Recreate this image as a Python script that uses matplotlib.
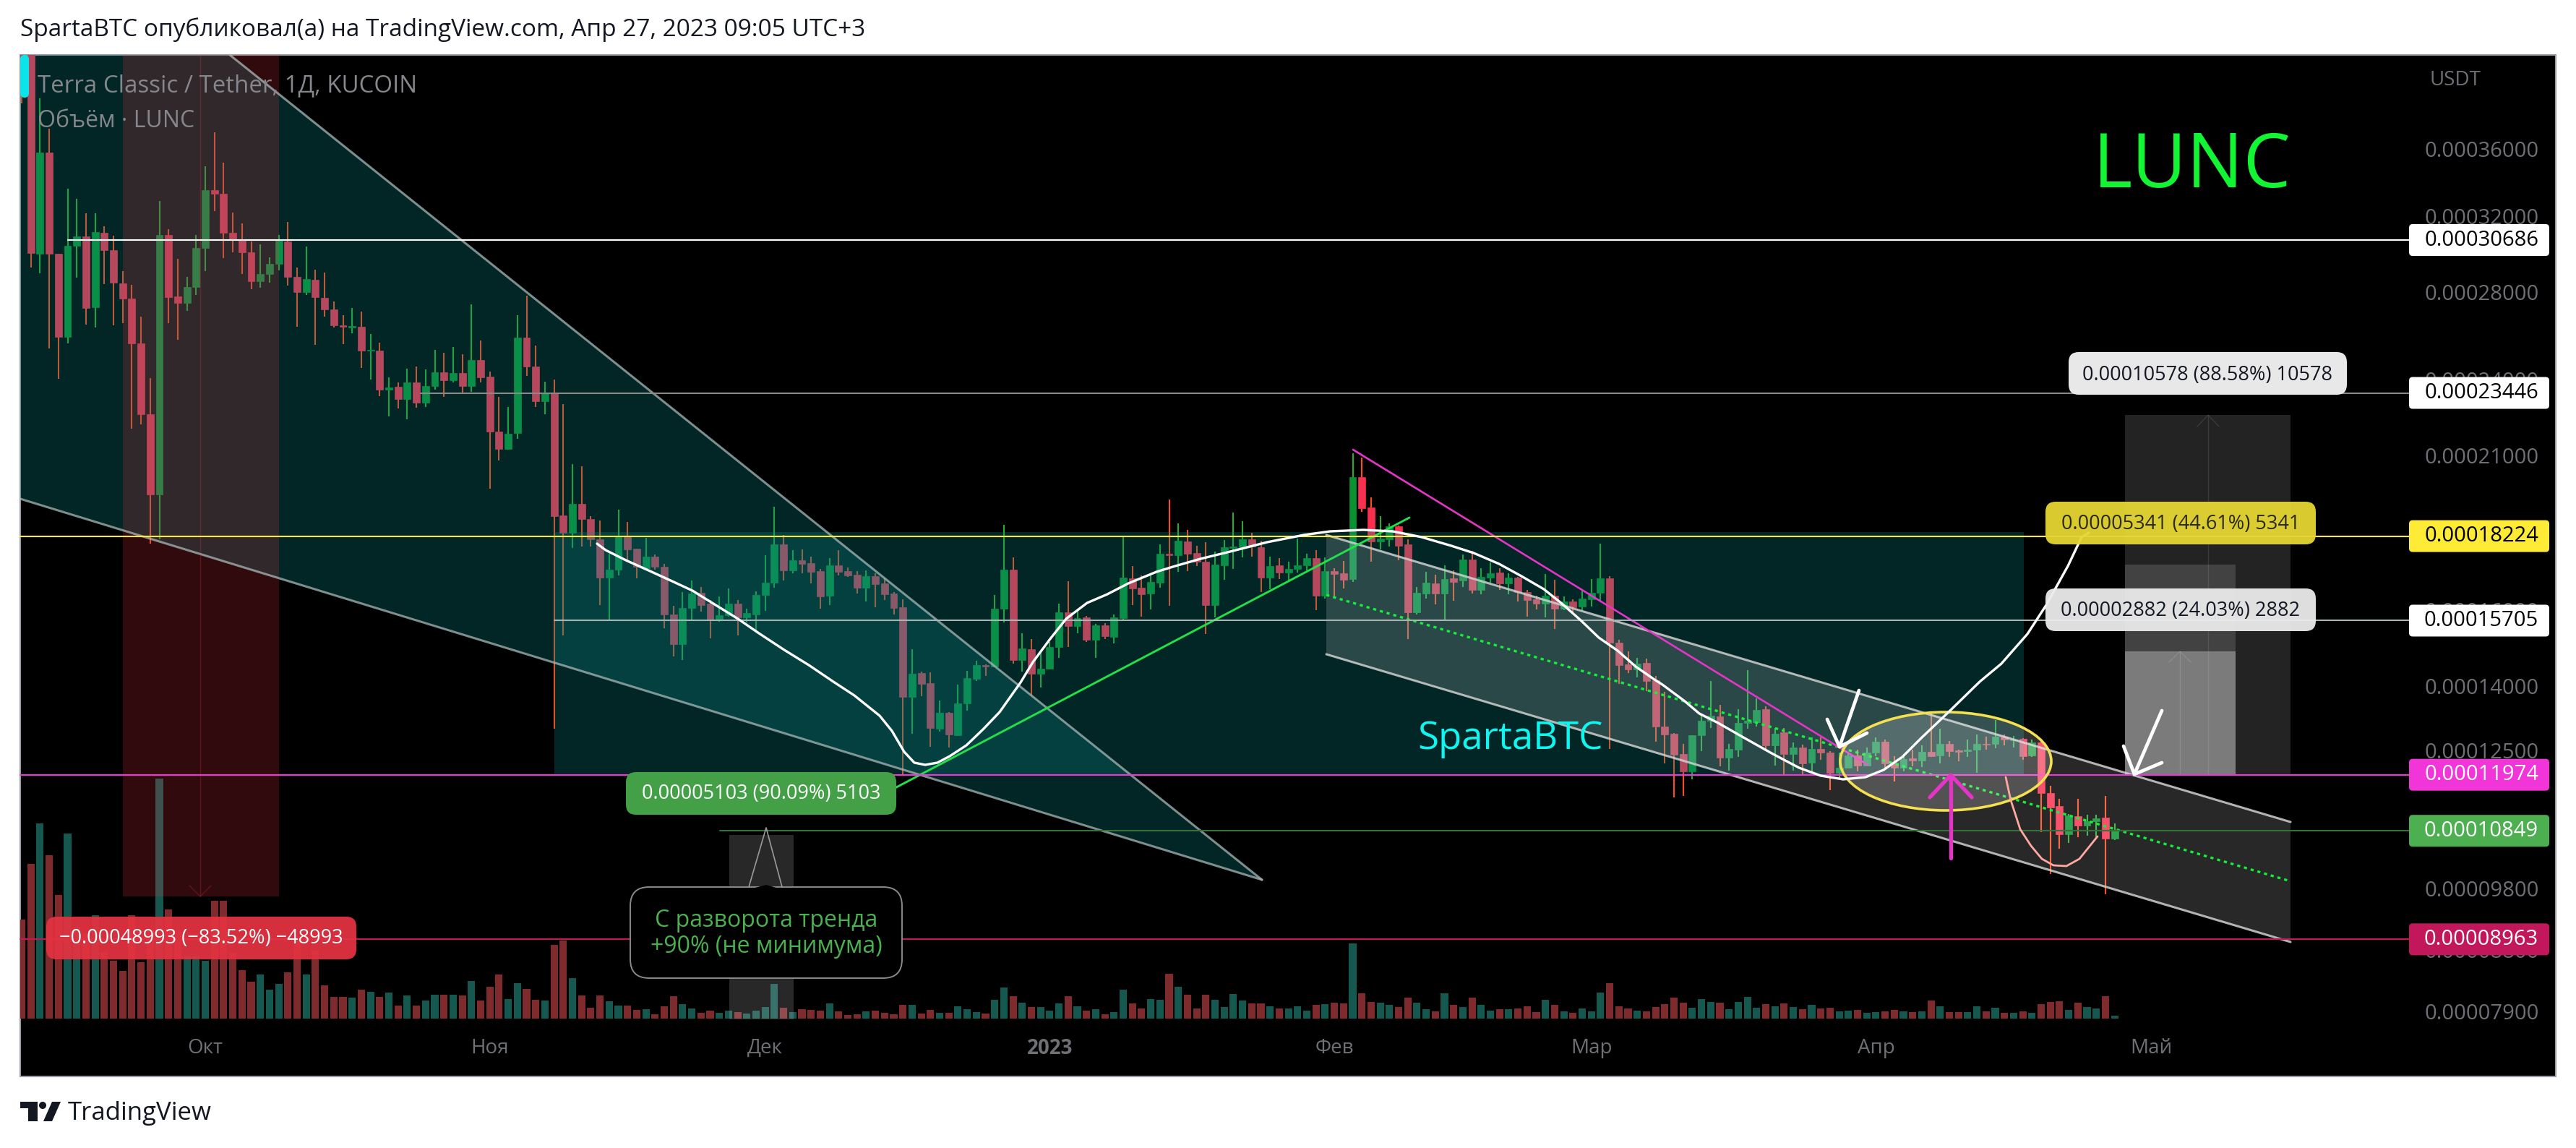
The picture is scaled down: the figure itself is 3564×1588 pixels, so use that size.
import numpy as np
import matplotlib
matplotlib.use("Agg")
import matplotlib.pyplot as plt
from matplotlib.patches import Rectangle, Polygon, Ellipse, FancyBboxPatch
from matplotlib.transforms import Affine2D
from matplotlib.ticker import NullLocator, NullFormatter

plt.rcParams['font.family'] = ['Open Sans', 'DejaVu Sans']

W, H, DPI = 3564, 1588, 100

# prezzi in unita di 1e-8 USDT, giorno 0 = 1 ottobre 2022
days = list(range(-20, 209))
opens = [
    43000, 43000, 29960, 35810, 29940, 25880, 30370, 30890, 27265, 31085,
    30140, 28435, 27690, 25590, 22570, 19610, 30950, 27770, 27470, 28260,
    30250, 33490, 33290, 31085, 30686, 30030, 28540, 28910, 29430, 30610,
    28770, 28000, 28610, 27720, 27165, 26410, 26310, 26340, 25250, 25270,
    23570, 23690, 23190, 23870, 23040, 23720, 24320, 23960, 24280, 23720,
    24850, 24140, 21890, 21250, 21840, 25830, 24550, 23120, 23470, 18900,
    18340, 19290, 18770, 18125, 16950, 17180, 18240, 17820, 17230, 17580,
    17275, 15875, 15075, 16050, 16490, 16180, 15705, 15860, 16180, 15785,
    15875, 16420, 16785, 17965, 17165, 17470, 17375, 17140, 16410, 17315,
    17130, 17030, 16650, 16990, 16775, 16475, 16080, 13735, 14325, 14070,
    12980, 13355, 12840, 13580, 14180, 14530, 14480, 16030, 17180, 14660,
    14940, 14305, 14425, 15000, 15940, 15565, 15800, 15190, 15580, 15260,
    15775, 16925, 16650, 16475, 16790, 17670, 17631, 18055, 17690, 17425,
    16130, 17320, 17855, 17880, 18125, 17870, 16950, 17315, 17100, 17205,
    17300, 17525, 16410, 17140, 17075, 16899, 20220, 19170, 18060, 18125,
    18545, 17955, 15940, 16480, 16770, 16465, 16920, 16845, 17485, 16585,
    16940, 17095, 16770, 16940, 16520, 16310, 16185, 16410, 16045, 16245,
    16100, 16315, 16500, 16920, 15115, 14548, 14420, 14585, 14145, 13040,
    12870, 12420, 12040, 12830, 13160, 13275, 12335, 12520, 13115, 13135,
    13443, 12615, 12900, 12425, 12565, 12235, 12535, 12455, 12015, 12125,
    12385, 12175, 12445, 12690, 12220, 12130, 12320, 12280, 12465, 12385,
    12650, 12500, 12475, 12520, 12650, 12640, 12810, 12725, 12750, 12380,
    12680, 11600, 11325, 10790, 11135, 10955, 11035, 11108, 10705,
]
closes = [
    40500, 29990, 35810, 29960, 25880, 30387, 30890, 27230, 31120, 30140,
    28470, 27690, 25590, 22570, 19610, 30950, 27750, 27470, 28260, 30250,
    33490, 33290, 31085, 30686, 30030, 28540, 28890, 29430, 30630, 28770,
    28000, 28660, 27750, 27165, 26410, 26340, 26360, 25270, 25300, 23570,
    23660, 23180, 23870, 23040, 23720, 24320, 23960, 24280, 23720, 24850,
    24110, 21890, 21250, 21810, 25830, 24550, 23120, 23470, 18880, 18340,
    19290, 18770, 18125, 16950, 17180, 18224, 17810, 17260, 17580, 17275,
    15875, 15075, 16065, 16475, 16150, 15705, 15860, 16180, 15785, 15920,
    16435, 16785, 17965, 17165, 17470, 17360, 17115, 16395, 17315, 17115,
    17005, 16650, 16990, 16750, 16460, 16065, 13735, 14305, 14050, 13005,
    13355, 12845, 13580, 14195, 14515, 14480, 16040, 17180, 14660, 14955,
    14305, 14425, 15000, 15940, 15565, 15770, 15190, 15580, 15275, 15800,
    16950, 16620, 16450, 16820, 17670, 17631, 18080, 17670, 17410, 16130,
    17340, 17870, 17890, 18125, 17895, 16950, 17295, 17100, 17205, 17315,
    17525, 16400, 17140, 17050, 16885, 20220, 19150, 18060, 18145, 18535,
    17920, 15940, 16500, 16795, 16465, 16899, 16820, 17485, 16570, 16955,
    17070, 16770, 16940, 16515, 16290, 16185, 16410, 16040, 16240, 16080,
    16330, 16500, 16920, 15101, 14530, 14420, 14560, 14127, 13040, 12860,
    12410, 12040, 12840, 13170, 13285, 12335, 12530, 13120, 13161, 13425,
    12615, 12870, 12425, 12565, 12220, 12535, 12445, 12015, 12115, 12385,
    12175, 12455, 12690, 12220, 12130, 12315, 12275, 12465, 12375, 12650,
    12475, 12465, 12520, 12650, 12620, 12810, 12735, 12745, 12375, 12680,
    11590, 11300, 10790, 11145, 10955, 11035, 11095, 10705, 10860,
]
highs = [
    44000, 44000, 39396, 37320, 29960, 33580, 33000, 32160, 32160, 31420,
    30930, 29050, 28365, 26800, 24080, 32860, 31280, 29685, 28770, 30950,
    34960, 37090, 35150, 32190, 31600, 30590, 30460, 29775, 30950, 31680,
    29250, 30330, 29120, 28980, 27550, 26900, 27230, 27060, 26010, 25620,
    24110, 23890, 24470, 24550, 24440, 25280, 25170, 25410, 25090, 27400,
    25720, 24350, 23280, 22870, 26900, 27840, 25480, 23900, 24000, 22980,
    20680, 20610, 18880, 18720, 17660, 19100, 18690, 17820, 18160, 17640,
    17360, 16120, 16515, 16860, 16660, 16276, 16395, 16620, 16276, 16040,
    16540, 17630, 19190, 18250, 17785, 17800, 17570, 17190, 17540, 17785,
    17240, 17130, 17155, 17070, 16920, 16515, 16300, 14940, 14355, 14340,
    13645, 13370, 14030, 14375, 14635, 14550, 16435, 18600, 17560, 15355,
    15205, 14835, 15128, 16180, 16835, 16040, 15845, 15615, 15640, 15870,
    18224, 17290, 17005, 17050, 17958, 19441, 18640, 18420, 17920, 18040,
    17730, 18100, 18990, 18715, 18340, 18085, 17580, 17535, 17410, 18150,
    17670, 17780, 17555, 17225, 17450, 21090, 20910, 19510, 18870, 18630,
    18570, 18125, 16665, 17110, 17025, 17310, 17150, 17645, 17750, 17220,
    17395, 17215, 17080, 16970, 16585, 16410, 17040, 16875, 16385, 16300,
    16565, 16899, 17985, 16985, 15190, 14882, 14715, 14695, 14245, 13860,
    12885, 12640, 12840, 13330, 14120, 13540, 12640, 13443, 14400, 13700,
    13500, 12995, 12995, 12670, 12625, 12780, 12780, 12480, 12455, 12455,
    12510, 12565, 12780, 12740, 12375, 12390, 12520, 12615, 13330, 12985,
    12705, 12510, 12740, 12860, 12805, 13190, 12860, 12820, 12770, 12745,
    12725, 11750, 11480, 11175, 11470, 11155, 11155, 11540, 10985,
]
lows = [
    39010, 29233, 28945, 25360, 24050, 25590, 28730, 26443, 26310, 28380,
    26410, 26525, 22010, 22175, 17990, 18120, 26525, 25750, 27100, 27860,
    29050, 32270, 29720, 30030, 28910, 28150, 28205, 28470, 29090, 28330,
    26340, 27860, 25530, 26810, 26310, 25560, 26040, 24490, 24020, 23320,
    22500, 22810, 22380, 22850, 22870, 23590, 23270, 23890, 23410, 23490,
    23890, 19800, 20810, 21230, 21640, 24150, 22870, 22590, 12990, 15300,
    17840, 17890, 17900, 16140, 15715, 17005, 17425, 16910, 17170, 17170,
    15502, 14750, 14660, 15715, 15960, 15225, 15675, 15810, 15300, 15650,
    15425, 15985, 16650, 16860, 17065, 17065, 16775, 16040, 16140, 17005,
    16965, 16475, 16235, 16080, 16276, 15884, 11974, 12875, 13750, 12570,
    12925, 12565, 12820, 13410, 14130, 14250, 14460, 15645, 14565, 14360,
    13775, 13960, 14410, 14705, 14995, 15355, 15128, 14715, 15205, 15090,
    15690, 16140, 15820, 16020, 16650, 16110, 17115, 17140, 17285, 15330,
    15790, 16865, 17190, 17555, 17580, 16505, 16605, 16899, 16850, 17095,
    17150, 15990, 16325, 16360, 16630, 16815, 19010, 17410, 17810, 17890,
    17475, 15200, 15880, 16330, 16165, 15705, 16255, 16670, 16465, 16445,
    16790, 16585, 16445, 16235, 15805, 16010, 15790, 15485, 15990, 15880,
    15990, 16100, 16235, 12535, 14045, 14325, 14205, 13880, 12685, 12210,
    11500, 11540, 11880, 12490, 13000, 12150, 12065, 12350, 12980, 13040,
    12510, 12165, 11990, 12055, 11990, 12040, 12300, 11650, 11890, 12115,
    12050, 12165, 12365, 12075, 11830, 12040, 12155, 12140, 12350, 12220,
    12360, 12255, 12360, 12015, 12520, 12540, 12615, 12565, 12300, 12350,
    10820, 10055, 10515, 10625, 10725, 10760, 10730, 9700, 10680,
]
volumes = [
    398, 623, 786, 658, 498, 746, 371, 343, 418, 268,
    233, 192, 418, 227, 358, 966, 440, 358, 250, 253,
    233, 475, 475, 265, 195, 148, 177, 116, 140, 186,
    323, 177, 273, 134, 87, 87, 84, 116, 107, 87,
    105, 52, 93, 52, 72, 96, 96, 96, 93, 151,
    72, 128, 177, 78, 142, 119, 75, 72, 297, 314,
    163, 93, 43, 93, 69, 52, 52, 35, 37, 17,
    49, 90, 58, 40, 23, 32, 23, 32, 26, 20,
    32, 46, 140, 43, 26, 37, 35, 32, 61, 29,
    14, 17, 29, 32, 23, 17, 55, 55, 20, 35,
    24, 24, 51, 39, 27, 21, 75, 126, 90, 63,
    48, 48, 33, 60, 90, 51, 33, 39, 18, 27,
    117, 60, 42, 78, 75, 180, 129, 96, 42, 96,
    75, 48, 99, 72, 60, 60, 51, 42, 42, 51,
    33, 54, 57, 63, 60, 303, 102, 66, 63, 54,
    48, 84, 63, 39, 30, 102, 54, 48, 84, 54,
    33, 39, 39, 42, 51, 27, 75, 54, 30, 24,
    42, 30, 105, 144, 51, 42, 33, 30, 48, 57,
    84, 63, 45, 78, 66, 63, 39, 66, 87, 45,
    57, 51, 60, 48, 39, 54, 42, 45, 30, 33,
    36, 24, 27, 30, 36, 30, 27, 30, 72, 51,
    27, 27, 27, 51, 30, 45, 24, 24, 30, 24,
    57, 66, 69, 36, 63, 48, 42, 90, 12,
]

price_ticks = [36000, 32000, 28000, 24000, 21000, 16000, 14000, 12500, 9800, 8800, 7900]
month_pos = [0, 31, 61, 92, 123, 151, 182, 212]
month_labels = ['Окт', 'Ноя', 'Дек', '2023', 'Фев', 'Мар', 'Апр', 'Май']

# livelli orizzontali: prezzo, colore linea, inizio in pixel, colore etichetta, colore testo
level_prices = [30686, 23446, 18224, 15705, 11974, 10849, 8963]
level_line_colors = ['#ffffff', '#8a8a8a', '#fde838', '#a9b4b4', '#f235d8', '#37703a', '#c2185b']
level_starts = [94, 582, 28, 767, 28, 996, 28]
level_tag_colors = ['#ffffff', '#ffffff', '#fdeb36', '#ffffff', '#f235d8', '#4caf50', '#c2185b']
level_text_colors = ['#000000', '#000000', '#000000', '#000000', '#ffffff', '#ffffff', '#ffffff']

fig = plt.figure(figsize=(W / DPI, H / DPI), dpi=DPI, facecolor='white')
# disegni a mano in pixel dell'immagine, y verso il basso
px = Affine2D().scale(1, -1).translate(0, H)

L, R, T, B = 28, 3333, 76, 1489
pos = [L / W, 1 - B / H, (R - L) / W, (B - T) / H]
x_lim = ((L - 284) / 12.7, (R - 284) / 12.7)

fig.add_artist(Rectangle((L, T), 3536 - L, B - T, transform=px, facecolor='black',
                         edgecolor='#9a9ca3', linewidth=1.5, zorder=-1))

# Volume, sotto a tutto
ax_vol = fig.add_axes(pos, zorder=0)
ax_vol.set_xlim(*x_lim)
ax_vol.set_ylim(-233, 3884)
ax_vol.axis('off')
vol_colors = ['#14584f' if c >= o else '#7f2a2d' for o, c in zip(opens, closes)]
ax_vol.bar(days, volumes, width=0.8, color=vol_colors, linewidth=0)

# Candele
ax = fig.add_axes(pos, zorder=1)
ax.patch.set_alpha(0)
ax.set_yscale('log')
ax.set_xlim(*x_lim)
ax.set_ylim(30686 * np.exp((332 - B) / 786), 30686 * np.exp((332 - T) / 786))
for s in ax.spines.values():
    s.set_visible(False)

o = np.array(opens)
c = np.array(closes)
up = c >= o
wick_colors = ['#25ad2b' if u else '#ff4a1c' for u in up]
body_colors = ['#0a9130' if u else '#f7304f' for u in up]
ax.vlines(days, lows, highs, colors=wick_colors, linewidth=1.5, zorder=2)
ax.bar(days, np.abs(c - o), bottom=np.minimum(o, c), width=0.78, color=body_colors,
       edgecolor=body_colors, linewidth=0.5, zorder=2.2)

ax.set_yticks(price_ticks, [f"0.{v:08d}" for v in price_ticks])
ax.yaxis.set_minor_locator(NullLocator())
ax.yaxis.set_minor_formatter(NullFormatter())
ax.yaxis.tick_right()
ax.tick_params(axis='y', length=0, pad=15.5, labelsize=21, labelcolor='#6f7076')
ax.set_xticks(month_pos, month_labels)
ax.tick_params(axis='x', length=0, pad=-38, labelsize=20, labelcolor='#6f7076')
ax.get_xticklabels()[3].set_fontweight('bold')


def poly(points, color, alpha, z=3):
    ax.add_patch(Polygon(points, closed=True, transform=px, facecolor=color, edgecolor='none',
                         alpha=alpha, zorder=z, clip_on=False))


def rect(x0, y0, x1, y1, color, alpha, z=3):
    poly([(x0, y0), (x1, y0), (x1, y1), (x0, y1)], color, alpha, z)


def line(points, color, lw, z=4, alpha=1.0, ls='-'):
    xs, ys = zip(*points)
    ax.plot(xs, ys, color=color, lw=lw, ls=ls, alpha=alpha, zorder=z, transform=px, clip_on=False,
            solid_capstyle='round', solid_joinstyle='round', scalex=False, scaley=False)


def box(x0, y0, x1, y1, fc, alpha=1.0, ec='none', lw=0, round_px=14, z=6):
    ax.add_patch(FancyBboxPatch((x0, y0), x1 - x0, y1 - y0, boxstyle=f"round,pad=0,rounding_size={round_px}",
                                transform=px, facecolor=fc, edgecolor=ec, linewidth=lw, alpha=alpha,
                                zorder=z, clip_on=False))


def label(x, y, s, color, size, z=7, **kw):
    ax.text(x, y, s, color=color, fontsize=size, ha='center', va='center', transform=px, zorder=z, **kw)


# Cuneo ribassista
wedge_top = (318, 76)
wedge_tip = (1746, 1217)
wedge_low = (28, 690)
poly([(28, 76), wedge_top, wedge_tip, wedge_low], '#0a8a8a', 0.27)
line([wedge_top, wedge_tip], '#a9b8b8', 2.2, alpha=0.75)
line([wedge_low, wedge_tip], '#a9b8b8', 2.2, alpha=0.75)

# Rettangoli di range
rect(170, 76, 386, 1240, '#f23645', 0.2)
line([(277, 76), (277, 1240)], '#f23645', 1, alpha=0.25)
line([(262, 1225), (277, 1240), (292, 1225)], '#f23645', 1, alpha=0.25)
rect(767, 736, 2800, 1071, '#0a8a8a', 0.27)
rect(1009, 1155, 1098, 1410, '#ffffff', 0.16)
rect(2940, 574, 3169, 1071, '#ffffff', 0.14)
rect(2940, 781, 3093, 1071, '#ffffff', 0.14)
rect(2940, 901, 3093, 1071, '#ffffff', 0.3)
line([(3055, 1071), (3055, 574)], '#ffffff', 1, alpha=0.1)
line([(3040, 590), (3055, 574), (3070, 590)], '#ffffff', 1, alpha=0.1)
line([(3016, 1071), (3016, 901)], '#ffffff', 1, alpha=0.12)
line([(3001, 916), (3016, 901), (3031, 916)], '#ffffff', 1, alpha=0.12)

# Canale discendente
chan_up = [(1835, 740), (3169, 1137)]
chan_mid = [(1835, 823), (3169, 1219)]
chan_low = [(1835, 905), (3169, 1303)]
poly([chan_up[0], chan_up[1], chan_low[1], chan_low[0]], '#ffffff', 0.16)
line(chan_up, '#d0d0d0', 2.2, alpha=0.85)
line(chan_low, '#d0d0d0', 2.2, alpha=0.85)
line(chan_mid, '#12f038', 2.4, ls=(0, (1.3, 1.6)))

# Linee di tendenza
line([(1225, 1097), (1950, 716)], '#22e04a', 2.1)
line([(1872, 622), (2584, 1058)], '#e535c9', 1.9)

# Livelli orizzontali
for v, lc, start in zip(level_prices, level_line_colors, level_starts):
    y = H - ax.transData.transform((0, v))[1]
    line([(start, y), (R, y)], lc, 1.5, z=4.5)

# Ellisse e curve a mano
ax.add_patch(Ellipse((2692, 1053), 292, 136, transform=px, facecolor='#ffffff', alpha=0.2,
                     edgecolor='none', zorder=4.6))
ax.add_patch(Ellipse((2692, 1053), 292, 136, transform=px, facecolor='none', edgecolor='#f5e050',
                     linewidth=2.6, zorder=4.7))

white_curve = [
    (826, 752), (838, 761), (866, 775), (895, 788), (930, 804), (958, 817), (987, 835), (1021, 856),
    (1050, 876), (1085, 899), (1119, 920), (1153, 943), (1182, 962), (1217, 990), (1234, 1011),
    (1251, 1040), (1265, 1055), (1280, 1058), (1297, 1055), (1314, 1046), (1337, 1031), (1360, 1009),
    (1383, 985), (1412, 944), (1429, 916), (1452, 885), (1475, 856), (1504, 834), (1532, 822),
    (1561, 807), (1600, 791), (1626, 783), (1661, 773), (1702, 763), (1753, 750), (1804, 740),
    (1840, 735), (1886, 733), (1927, 735), (1967, 743), (2008, 755), (2039, 765), (2074, 780),
    (2105, 797), (2136, 815), (2161, 835), (2187, 858), (2212, 882), (2238, 900), (2263, 922),
    (2289, 940), (2300, 947), (2331, 970), (2351, 987), (2377, 1000), (2412, 1020), (2453, 1043),
    (2489, 1062), (2519, 1073), (2550, 1078), (2581, 1075), (2606, 1065), (2632, 1047), (2657, 1022),
    (2698, 983), (2739, 943), (2769, 918), (2805, 877), (2831, 837), (2861, 783), (2880, 743), (2890, 737),
]
line(white_curve, '#ffffff', 2.4, z=5)
pink_curve = [(2775, 1075), (2782, 1107), (2795, 1147), (2810, 1170), (2825, 1188), (2841, 1197),
              (2859, 1198), (2877, 1188), (2902, 1157)]
line(pink_curve, '#ffa9a0', 2.0, z=5)

# Frecce
line([(2572, 955), (2545, 1033)], '#ffffff', 3.4, z=5.2)
line([(2528, 995), (2545, 1033), (2583, 1014)], '#ffffff', 3.4, z=5.2)
line([(2991, 983), (2953, 1071)], '#ffffff', 3.4, z=5.2)
line([(2938, 1032), (2953, 1071), (2991, 1055)], '#ffffff', 3.4, z=5.2)
line([(2699, 1187), (2699, 1072)], '#e535c9', 3.8, z=5.2)
line([(2670, 1103), (2699, 1072), (2728, 1103)], '#e535c9', 3.8, z=5.2)

# Etichette delle misure
box(866, 1068, 1240, 1127, '#43a047')
label(1053, 1098, '0.00005103 (90.09%) 5103', '#ffffff', 19.5)
box(64, 1268, 493, 1327, '#e23241', alpha=0.95)
label(278, 1298, '−0.00048993 (−83.52%) −48993', '#ffffff', 19.5)
box(2862, 487, 3247, 546, '#e8e8e8')
label(3054, 519, '0.00010578 (88.58%) 10578', '#131722', 19.5)
box(2830, 694, 3204, 753, '#e6d632', alpha=0.95)
label(3017, 725, '0.00005341 (44.61%) 5341', '#2a2a1a', 19.5)
box(2830, 814, 3204, 873, '#ebebeb', alpha=0.95)
label(3017, 845, '0.00002882 (24.03%) 2882', '#131722', 19.5)

# Fumetto
box(872, 1227, 1248, 1353, '#000000', ec='#8a8a8a', lw=1.4, round_px=26, z=6)
line([(1036, 1227), (1060, 1145), (1082, 1227)], '#9a9a9a', 1.2, z=6.1)
poly([(1037, 1230), (1081, 1230), (1060, 1224)], '#000000', 1.0, z=6.1)
label(1060, 1273, 'С разворота тренда', '#4caf50', 23)
label(1060, 1309, '+90% (не минимума)', '#4caf50', 23)

# Testi sul grafico
label(3033, 232, 'LUNC', '#11f533', 75)
label(2089, 1022, 'SpartaBTC', '#0ff5f0', 38)
ax.text(52, 119, 'Terra Classic / Tether, 1Д, KUCOIN', color='#85878c', fontsize=23.8, va='center', transform=px, zorder=7)
ax.text(52, 167, 'Объём · LUNC', color='#85878c', fontsize=23, va='center', transform=px, zorder=7)
box(28, 76, 40, 135, '#0be4e8', round_px=6)
label(3397, 111, 'USDT', '#6f7076', 20)

# Etichette di prezzo sull'asse
for v, tc, fc in zip(level_prices, level_text_colors, level_tag_colors):
    y = H - ax.transData.transform((0, v))[1]
    box(R, y - 22, 3527, y + 22, fc, round_px=5, z=6)
    label(3433, y, f"0.{v:08d}", tc, 21)

# Intestazione e logo
fig.text(28 / W, 1 - 41 / H, 'SpartaBTC опубликовал(а) на TradingView.com, Апр 27, 2023 09:05 UTC+3',
         color='#131722', fontsize=24, va='center', ha='left')
logo = '#131722'
fig.add_artist(Polygon([(28, 1524), (52, 1524), (52, 1551), (39, 1551), (39, 1533), (28, 1533)],
                       transform=px, facecolor=logo, edgecolor='none'))
fig.add_artist(Ellipse((59, 1529), 10, 10, transform=px, facecolor=logo, edgecolor='none'))
fig.add_artist(Polygon([(72, 1524), (84, 1524), (72, 1551), (60, 1551)], transform=px,
                       facecolor=logo, edgecolor='none'))
fig.text(94 / W, 1 - 1540 / H, 'TradingView', color=logo, fontsize=25, va='center', ha='left')

fig.savefig('out.png', dpi=DPI)
